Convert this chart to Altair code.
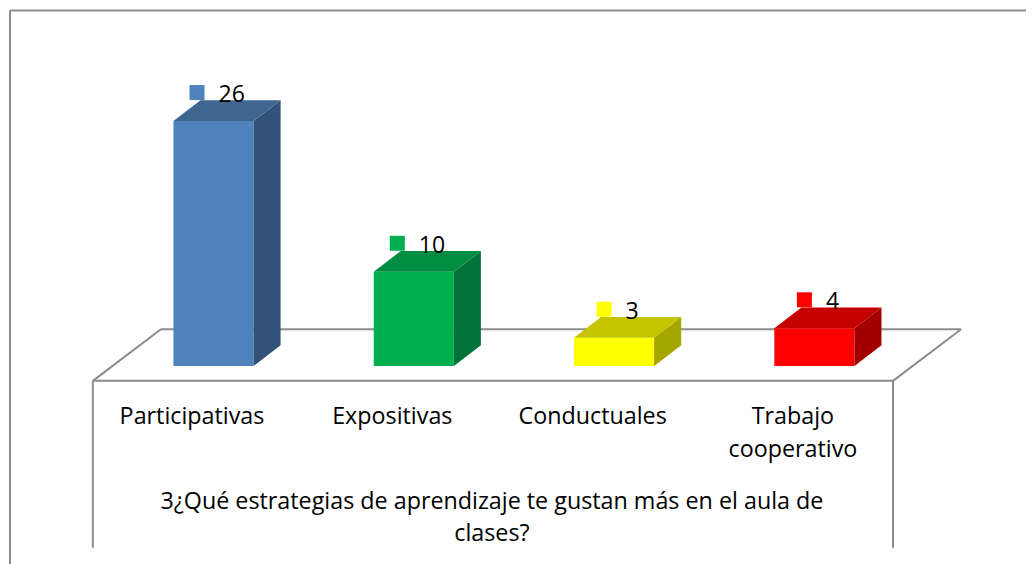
import altair as alt
import pandas as pd

# Values
categories = ["Participativas", "Expositivas", "Conductuales", "Trabajo\ncooperativo"]
values = [26, 10, 3, 4]
front_colors = ["#4F81BD", "#00B050", "#FFFF00", "#FF0000"]
top_colors = ["#3F6591", "#008D40", "#C4C400", "#C40000"]
side_colors = ["#325278", "#00733A", "#A6A600", "#A30000"]
title_text = "3¿Qué estrategias de aprendizaje te gustan más en el aula de\nclases?"

# Scales: category units across, value units up
W, H = 1018, 556
X_DOM = [-1.026, 4.0565]
Y_DOM = [-21.02, 38.0]
HALF = 0.2
DX, DY = 0.135, 2.2

FONT = "Open Sans"
GRAY = "#8C8C8C"


def X(f):
    return alt.X(f, type="quantitative", scale=alt.Scale(domain=X_DOM, range=[0, W]), axis=None)


def Y(f):
    return alt.Y(f, type="quantitative", scale=alt.Scale(domain=Y_DOM, range=[H, 0]), axis=None)


idx = list(range(len(values)))

# Frame and floor, in data units
xl, xr = -1.016, X_DOM[1]
yt = 37.74
fl, fr = -0.6025, 3.3925
bl, br = -0.2625, 3.7325
yf, yb = -1.58, 3.9
rules = pd.DataFrame(
    [
        dict(x=xl, x2=xl, y=yt, y2=Y_DOM[0]),
        dict(x=xl, x2=xr, y=yt, y2=yt),
        dict(x=fl, x2=fr, y=yf, y2=yf),
        dict(x=bl, x2=br, y=yb, y2=yb),
        dict(x=fl, x2=bl, y=yf, y2=yb),
        dict(x=fr, x2=br, y=yf, y2=yb),
        dict(x=fl, x2=fl, y=yf, y2=-19.3),
        dict(x=fr, x2=fr, y=yf, y2=-19.3),
    ]
)
rule_layer = alt.Chart(rules).mark_rule(color=GRAY, strokeWidth=2).encode(
    x=X("x"), x2="x2", y=Y("y"), y2="y2"
)

front = pd.DataFrame(
    {"l": [i - HALF for i in idx], "r": [i + HALF for i in idx], "b": [0] * 4, "v": values, "c": front_colors}
)
front_layer = alt.Chart(front).mark_rect().encode(
    x=X("l"), x2="r", y=Y("b"), y2="v", color=alt.Color("c:N", scale=None)
)

side_rows, top_rows = [], []
for i, v in zip(idx, values):
    side_rows += [
        dict(g=i, x=i + HALF, y=0, y2=v, c=side_colors[i]),
        dict(g=i, x=i + HALF + DX, y=DY, y2=v + DY, c=side_colors[i]),
    ]
    top_rows += [
        dict(g=i, y=v, x=i - HALF, x2=i + HALF, c=top_colors[i]),
        dict(g=i, y=v + DY, x=i - HALF + DX, x2=i + HALF + DX, c=top_colors[i]),
    ]

side_layer = alt.Chart(pd.DataFrame(side_rows)).mark_area(orient="vertical").encode(
    x=X("x"), y=Y("y"), y2="y2", detail="g:N", color=alt.Color("c:N", scale=None)
)
top_layer = alt.Chart(pd.DataFrame(top_rows)).mark_area(orient="horizontal").encode(
    y=Y("y"), x=X("x"), x2="x2", detail="g:N", color=alt.Color("c:N", scale=None)
)

# Key + number label is centred as a group, so one-digit labels sit further right
labels = pd.DataFrame(
    {
        "i": [i + (0.0325 if v < 10 else 0) for i, v in zip(idx, values)],
        "v": values,
        "c": front_colors,
        "t": [str(v) for v in values],
    }
)
keys = alt.Chart(labels).mark_square(size=225, opacity=1, xOffset=-16.5, yOffset=-28.5).encode(
    x=X("i"), y=Y("v"), color=alt.Color("c:N", scale=None)
)
value_text = alt.Chart(labels).mark_text(
    align="left", baseline="alphabetic", font=FONT, fontSize=23, color="#000000", xOffset=5, yOffset=-19
).encode(x=X("i"), y=Y("v"), text="t:N")

cats = pd.DataFrame({"i": idx, "y": [-6.15] * 4, "t": categories})
cat_text = alt.Chart(cats).mark_text(
    align="center", baseline="alphabetic", font=FONT, fontSize=23.3, color="#000000",
    lineBreak="\n", lineHeight=33, xOffset=-21.5
).encode(x=X("i"), y=Y("y"), text="t:N")

title_df = pd.DataFrame({"i": [1.39], "y": [-15.15], "t": [title_text]})
title_layer = alt.Chart(title_df).mark_text(
    align="center", baseline="alphabetic", font=FONT, fontSize=23.3, color="#000000",
    lineBreak="\n", lineHeight=32
).encode(x=X("i"), y=Y("y"), text="t:N")

chart = (
    alt.layer(rule_layer, front_layer, side_layer, top_layer, keys, value_text, cat_text, title_layer)
    .properties(width=W, height=H, padding=0, autosize=alt.AutoSizeParams(type="none"), background="#FFFFFF")
    .configure_view(stroke=None)
)
chart.save("out.html", embed_options={"renderer": "svg", "actions": False})
